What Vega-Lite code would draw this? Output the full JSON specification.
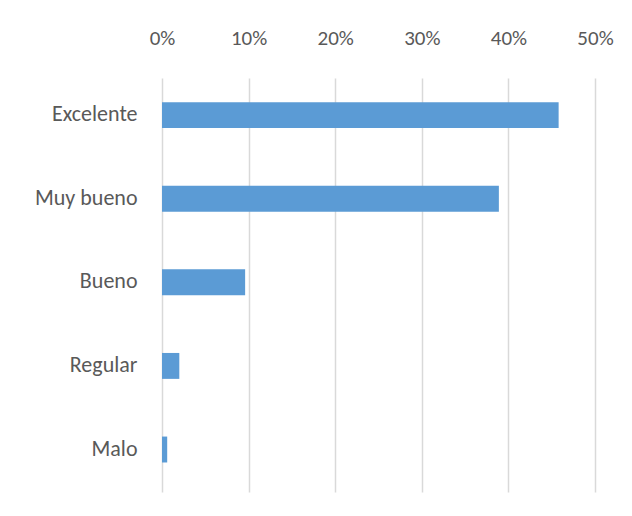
{
  "$schema": "https://vega.github.io/schema/vega-lite/v6.json",
  "autosize": "none",
  "width": 433,
  "height": 414,
  "padding": {"left": 162, "top": 78, "right": 37, "bottom": 24},
  "background": "white",
  "data": {"values": [
    {"category": "Excelente", "value": 0.458},
    {"category": "Muy bueno", "value": 0.389},
    {"category": "Bueno", "value": 0.096},
    {"category": "Regular", "value": 0.02},
    {"category": "Malo", "value": 0.006}
  ]},
  "mark": {"type": "bar", "color": "#5b9bd5"},
  "encoding": {
    "y": {
      "field": "category", "type": "nominal", "sort": null,
      "scale": {"paddingInner": 0.69, "paddingOuter": 0.321, "align": 0.45},
      "axis": {"title": null, "domain": false, "ticks": false, "labelPadding": 25, "labelFontSize": 22, "labelFont": "Carlito, 'Liberation Sans Narrow', 'Open Sans'", "labelColor": "#595959", "labelBaseline": "middle", "labelOffset": -1}
    },
    "x": {
      "field": "value", "type": "quantitative",
      "scale": {"domain": [0, 0.5], "nice": false},
      "axis": {"orient": "top", "format": ".0%", "values": [0, 0.1, 0.2, 0.3, 0.4, 0.5], "title": null, "domain": false, "ticks": false, "labelFlush": false, "labelPadding": 30, "labelFontSize": 21, "labelFont": "Carlito, 'Liberation Sans Narrow', 'Open Sans'", "labelColor": "#595959", "gridColor": "#d9d9d9", "gridWidth": 1.5}
    }
  },
  "config": {"view": {"stroke": null}}
}
